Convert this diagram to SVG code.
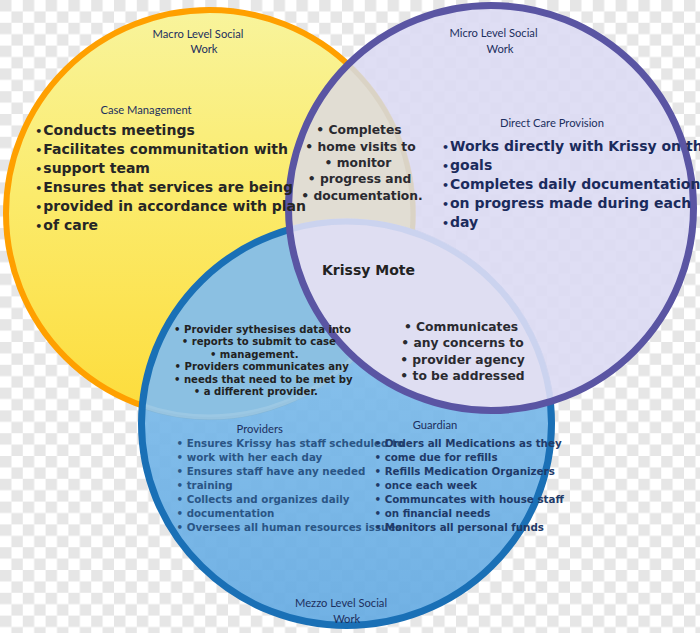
<svg xmlns="http://www.w3.org/2000/svg" width="700" height="633" viewBox="0 0 700 633">
<defs>
  <pattern id="chk" width="22.8" height="22.8" patternUnits="userSpaceOnUse">
    <rect width="22.8" height="22.8" fill="#ffffff"/>
    <rect width="11.4" height="11.4" fill="#e6e6e6"/>
    <rect x="11.4" y="11.4" width="11.4" height="11.4" fill="#e6e6e6"/>
  </pattern>
  <linearGradient id="gY" gradientUnits="userSpaceOnUse" x1="0" y1="10" x2="0" y2="420">
    <stop offset="0" stop-color="#f8f49c"/>
    <stop offset="0.45" stop-color="#fbeb6c"/>
    <stop offset="1" stop-color="#fddc3a"/>
  </linearGradient>
  <linearGradient id="gB" gradientUnits="userSpaceOnUse" x1="0" y1="220" x2="0" y2="630">
    <stop offset="0" stop-color="#88c3ee"/>
    <stop offset="1" stop-color="#66abe2"/>
  </linearGradient>
  <clipPath id="cY"><circle cx="209.5" cy="213.5" r="203"/></clipPath>
  <clipPath id="cP"><circle cx="491" cy="208" r="202.5"/></clipPath>
  <clipPath id="cB"><ellipse cx="346.5" cy="423.5" rx="205" ry="202"/></clipPath>
  <style>
    .ttl{font-family:Lato,"Liberation Sans",sans-serif;font-size:11.2px;fill:#1c2f5e}
    .big{font-family:"DejaVu Sans",Verdana,sans-serif;font-weight:bold;font-size:14px}
    .dot{font-size:11px}
    .mid{font-family:"DejaVu Sans",Verdana,sans-serif;font-weight:bold;font-size:12.3px;fill:#2a2a30;text-anchor:middle}
    .sm{font-family:"DejaVu Sans",Verdana,sans-serif;font-weight:bold;font-size:10.1px;fill:#222;text-anchor:middle}
    .pv{font-family:"DejaVu Sans",Verdana,sans-serif;font-weight:bold;font-size:10.3px;fill:#2a5585}
    .gd{font-family:"DejaVu Sans",Verdana,sans-serif;font-weight:bold;font-size:10.3px;fill:#1f3a68}
  </style>
</defs>
<rect width="700" height="633" fill="url(#chk)"/>

<g id="macro">
  <circle cx="209.5" cy="213.5" r="203.5" fill="url(#gY)" stroke="#ffa000" stroke-width="6"/>
</g>

<g id="mezzo">
  <ellipse cx="346.5" cy="423.5" rx="205" ry="202" fill="url(#gB)" fill-opacity="0.93"/>
  <g clip-path="url(#cB)">
    <circle cx="209.5" cy="213.5" r="203.5" fill="#8bc0e2"/>
    <circle cx="209.5" cy="213.5" r="203.5" fill="none" stroke="#a6cde6" stroke-width="5" opacity="0.6"/>
  </g>
  <ellipse cx="346.5" cy="423.5" rx="205" ry="202" fill="none" stroke="#1a70b6" stroke-width="7"/>
</g>

<g id="micro">
  <circle cx="491" cy="208" r="202.5" fill="#dcdbf3" fill-opacity="0.92"/>
  <g clip-path="url(#cP)">
    <circle cx="209.5" cy="213.5" r="206" fill="#e1ddd3"/>
    <circle cx="209.5" cy="213.5" r="203.5" fill="none" stroke="#d6cdbd" stroke-width="5" opacity="0.6"/>
    <ellipse cx="346.5" cy="423.5" rx="208" ry="205" fill="#dfdef2"/>
    <ellipse cx="346.5" cy="423.5" rx="205" ry="202" fill="none" stroke="#c6cfee" stroke-width="6" opacity="0.8"/>
  </g>
  <circle cx="491" cy="208" r="202.5" fill="none" stroke="#5a55a3" stroke-width="7"/>
</g>

<g id="macro-labels">
  <text class="ttl" x="198" y="37.5" text-anchor="middle">Macro Level Social</text>
  <text class="ttl" x="204" y="52.7" text-anchor="middle">Work</text>
  <text class="ttl" x="146" y="113.5" text-anchor="middle">Case Management</text>
  <g class="big" fill="#262626">
    <text x="35.3" y="135"><tspan class="dot">•</tspan><tspan x="43.3">Conducts meetings</tspan></text>
    <text x="35.3" y="154"><tspan class="dot">•</tspan><tspan x="43.3">Facilitates communitation with</tspan></text>
    <text x="35.3" y="173"><tspan class="dot">•</tspan><tspan x="43.3">support team</tspan></text>
    <text x="35.3" y="192"><tspan class="dot">•</tspan><tspan x="43.3">Ensures that services are being</tspan></text>
    <text x="35.3" y="211"><tspan class="dot">•</tspan><tspan x="43.3">provided in accordance with plan</tspan></text>
    <text x="35.3" y="230"><tspan class="dot">•</tspan><tspan x="43.3">of care</tspan></text>
  </g>
</g>

<g id="macro-micro-labels">
  <text class="mid" x="359" y="134">• Completes</text>
  <text class="mid" x="360.5" y="150.5">• home visits to</text>
  <text class="mid" x="358" y="167">• monitor</text>
  <text class="mid" x="359.5" y="183.3">• progress and</text>
  <text class="mid" x="362" y="199.5">• documentation.</text>
</g>

<g id="micro-labels">
  <text class="ttl" x="493.5" y="37.3" text-anchor="middle">Micro Level Social</text>
  <text class="ttl" x="500" y="52.7" text-anchor="middle">Work</text>
  <text class="ttl" x="552" y="126.7" text-anchor="middle">Direct Care Provision</text>
  <g class="big" fill="#1b2b5c">
    <text x="442" y="150.5"><tspan class="dot">•</tspan><tspan x="450">Works directly with Krissy on th</tspan></text>
    <text x="442" y="169.5"><tspan class="dot">•</tspan><tspan x="450">goals</tspan></text>
    <text x="442" y="188.5"><tspan class="dot">•</tspan><tspan x="450">Completes daily documentation</tspan></text>
    <text x="442" y="207.5"><tspan class="dot">•</tspan><tspan x="450">on progress made during each</tspan></text>
    <text x="442" y="226.5"><tspan class="dot">•</tspan><tspan x="450">day</tspan></text>
  </g>
</g>

<g id="center">
  <text class="big" x="322" y="275" fill="#222">Krissy Mote</text>
</g>

<g id="micro-mezzo-labels">
  <text class="mid" x="461" y="330.5" fill="#222">• Communicates</text>
  <text class="mid" x="462.5" y="347">• any concerns to</text>
  <text class="mid" x="462.5" y="363.5">• provider agency</text>
  <text class="mid" x="462.5" y="380">• to be addressed</text>
</g>

<g id="macro-mezzo-labels">
  <text class="sm" x="262.5" y="332.7">• Provider sythesises data into</text>
  <text class="sm" x="258.8" y="345">• reports to submit to case</text>
  <text class="sm" x="254.2" y="357.7">• management.</text>
  <text class="sm" x="261.7" y="370">• Providers communicates any</text>
  <text class="sm" x="263.3" y="382.7">• needs that need to be met by</text>
  <text class="sm" x="255.8" y="395">• a different provider.</text>
</g>

<g id="mezzo-labels">
  <text class="ttl" x="259.7" y="433.3" text-anchor="middle">Providers</text>
  <text class="pv" x="176.5" y="447">• Ensures Krissy has staff scheduled to</text>
  <text class="pv" x="176.5" y="461">• work with her each day</text>
  <text class="pv" x="176.5" y="475">• Ensures staff have any needed</text>
  <text class="pv" x="176.5" y="489">• training</text>
  <text class="pv" x="176.5" y="503">• Collects and organizes daily</text>
  <text class="pv" x="176.5" y="517">• documentation</text>
  <text class="pv" x="176.5" y="531">• Oversees all human resources issues</text>
  <text class="ttl" x="435" y="429.3" text-anchor="middle">Guardian</text>
  <text class="gd" x="374.5" y="447">• Orders all Medications as they</text>
  <text class="gd" x="374.5" y="461">• come due for refills</text>
  <text class="gd" x="374.5" y="475">• Refills Medication Organizers</text>
  <text class="gd" x="374.5" y="489">• once each week</text>
  <text class="gd" x="374.5" y="503">• Communcates with house staff</text>
  <text class="gd" x="374.5" y="517">• on financial needs</text>
  <text class="gd" x="374.5" y="531">• Monitors all personal funds</text>
  <text class="ttl" x="341" y="606.5" text-anchor="middle">Mezzo Level Social</text>
  <text class="ttl" x="346.7" y="622.5" text-anchor="middle">Work</text>
</g>
</svg>
